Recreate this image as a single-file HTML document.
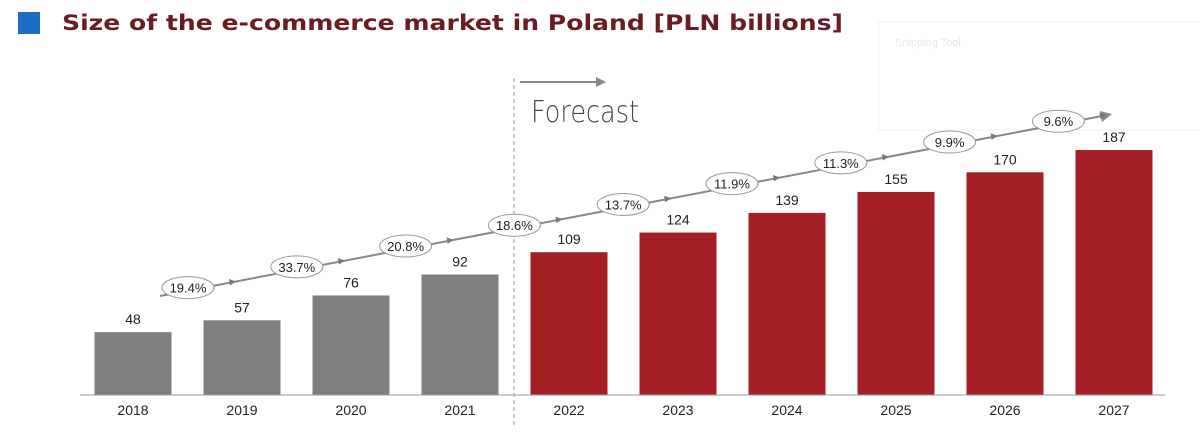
<!DOCTYPE html>
<html><head><meta charset="utf-8"><style>
body{margin:0;background:#fff;width:1200px;height:434px;overflow:hidden}
svg{display:block}
</style></head><body>
<svg width="1200" height="434" xmlns="http://www.w3.org/2000/svg">
<rect x="18" y="12" width="22" height="22" fill="#1b6fc4"/>
<text x="62" y="30" font-family="DejaVu Sans, sans-serif" font-weight="bold" font-size="21" fill="#6b1c23" textLength="781" lengthAdjust="spacingAndGlyphs">Size of the e-commerce market in Poland [PLN billions]</text>
<rect x="879" y="22" width="330" height="108" fill="#fff" stroke="#f2f2f2"/>
<text x="895" y="46" font-family="Liberation Sans, sans-serif" font-size="11" fill="#e6e6e6">Snipping Tool</text>
<line x1="514" y1="78" x2="514" y2="425" stroke="#999" stroke-dasharray="4,3"/>
<line x1="520" y1="82" x2="598" y2="82" stroke="#888" stroke-width="2"/>
<polygon points="606,82 596,77 596,87" fill="#888"/>
<text x="531" y="122" font-family="DejaVu Sans, sans-serif" font-weight="200" font-size="30" fill="#444" textLength="108" lengthAdjust="spacingAndGlyphs">Forecast</text>
<g id="bars"></g>
<line x1="80" y1="395" x2="1165" y2="395" stroke="#999"/>
<g id="growth"></g>
</svg>
<script>
const years=["2018","2019","2020","2021","2022","2023","2024","2025","2026","2027"];
const values=[48,57,76,92,109,124,139,155,170,187];
const growth=["19.4%","33.7%","20.8%","18.6%","13.7%","11.9%","11.3%","9.9%","9.6%"];
const forecastFrom=4;
const NS="http://www.w3.org/2000/svg";
const x0=133,step=109,base=395,k=1.31,bw=77;
const xs=i=>x0+i*step, ys=v=>base-v*k;
const bars=document.getElementById('bars');
function mk(t,a,p){const e=document.createElementNS(NS,t);for(const n in a)e.setAttribute(n,a[n]);p.appendChild(e);return e;}
values.forEach((v,i)=>{
 const r=mk('rect',{x:xs(i)-bw/2,y:ys(v),width:bw,height:v*k,fill:i>=forecastFrom?'#a31f23':'#808080'},bars);
 
 
 const t=mk('text',{x:xs(i),y:ys(v)-8,'text-anchor':'middle','font-family':'Liberation Sans, sans-serif','font-size':'14',fill:'#222'},bars);
 t.textContent=v;
 
 
 const y=mk('text',{x:xs(i),y:415,'text-anchor':'middle','font-family':'Liberation Sans, sans-serif','font-size':'14',fill:'#222'},bars);
 y.textContent=years[i];
 
 
});
const g=document.getElementById('growth');
const lx1=160,ly1=296,lx2=1112,ly2=114;
const ln=mk('line',{x1:lx1,y1:ly1,x2:lx2-10,y2:ly2+2,stroke:'#888','stroke-width':'2'},g);


const ah=mk('polygon',{points:`${lx2},${ly2} ${lx2-12},${ly2-3} ${lx2-10},${ly2+8}`,fill:'#888'},g);


growth.forEach((s,i)=>{
 const cx=188+i*108.8, cy=ly1-(cx-lx1)*(ly1-ly2)/(lx2-lx1)-3;
 const ax=cx+48, ay=ly1-(ax-lx1)*(ly1-ly2)/(lx2-lx1);
 mk('polygon',{points:`${ax},${ay} ${ax-7},${ay-2.5} ${ax-6},${ay+4}`,fill:'#777'},g);
 const e=mk('ellipse',{cx:cx,cy:cy,rx:26,ry:11,fill:'#fff',stroke:'#999'},g);
 
 
 const t=mk('text',{x:cx,y:cy+5,'text-anchor':'middle','font-family':'Liberation Sans, sans-serif','font-size':'13',fill:'#222'},g);
 t.textContent=s;
 
 
});
</script>
</body></html>
